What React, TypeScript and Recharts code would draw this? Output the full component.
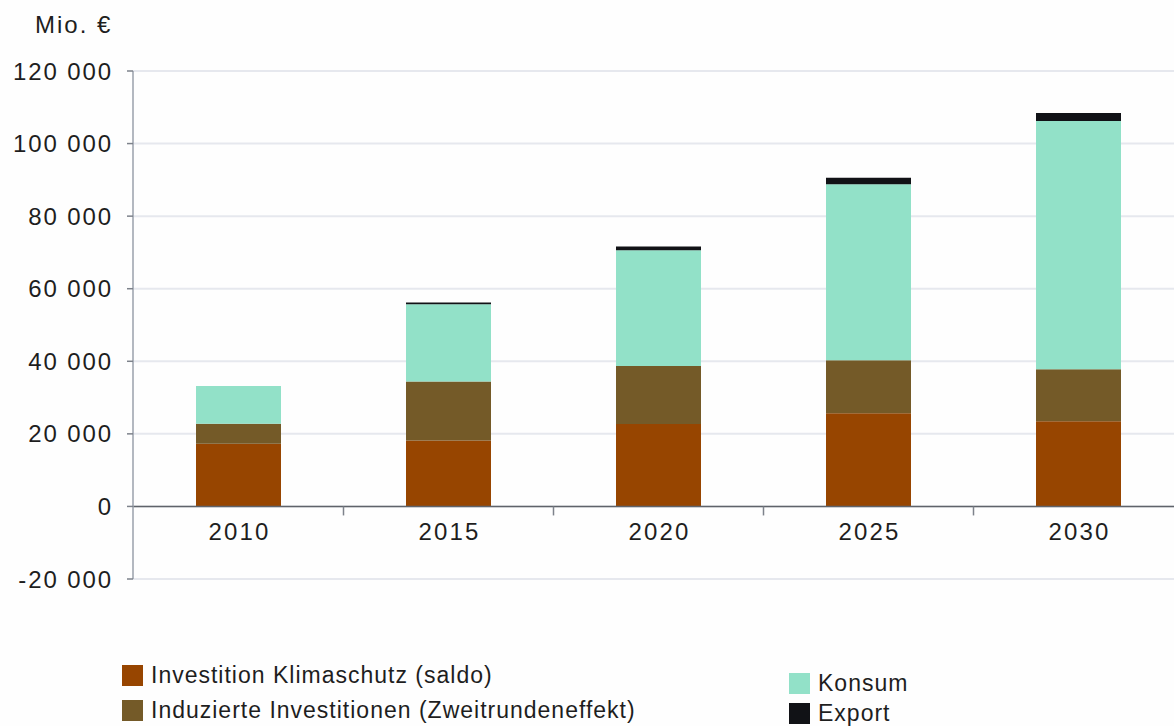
import {
  Bar,
  BarChart,
  CartesianGrid,
  LabelList,
  ReferenceLine,
  XAxis,
  YAxis,
} from "recharts";

const years = ["2010", "2015", "2020", "2025", "2030"];
const klimaschutz = [17300, 18200, 22700, 25700, 23500];
const induziert = [5500, 16200, 16000, 14600, 14300];
const konsum = [10400, 21300, 31900, 48500, 68400];
const exportVals = [0, 500, 1000, 1800, 2200];
const yTicks = [-20000, 0, 20000, 40000, 60000, 80000, 100000, 120000];

const colors = {
  klima: "#974500",
  induziert: "#745a28",
  konsum: "#92e1c8",
  export: "#111216",
};

const font = "'Liberation Sans', Arial, Helvetica, sans-serif";

const rows = years.map((year, i) => ({
  year,
  klima: klimaschutz[i],
  induziert: induziert[i],
  konsum: konsum[i],
  export: exportVals[i],
}));

const fmt = (v: number) => {
  const s = Math.abs(v).toString().replace(/\B(?=(\d{3})+(?!\d))/g, " ");
  return v < 0 ? "-" + s : s;
};

const BAND = 210;

function YearLabel(props: any) {
  const { x, y, width, height, value } = props;
  if (x == null || y == null) return null;
  const cx = Number(x) + Number(width) / 2;
  const zeroY = Number(y) + Number(height);
  return (
    <g>
      <line
        x1={cx + BAND / 2}
        x2={cx + BAND / 2}
        y1={zeroY}
        y2={zeroY + 9}
        stroke="#7d828b"
        strokeWidth={1.5}
      />
      <text
        x={cx + 1}
        y={zeroY + 34}
        textAnchor="middle"
        fill="#1e1e1e"
        fontSize={24}
        fontFamily={font}
        letterSpacing={2.2}
      >
        {value}
      </text>
    </g>
  );
}

function LegendItem(props: { color: string; label: string; left: number; top: number }) {
  return (
    <div
      style={{
        position: "absolute",
        left: props.left,
        top: props.top,
        display: "flex",
        alignItems: "center",
        fontFamily: font,
        fontSize: 23,
        lineHeight: "26px",
        color: "#1e1e1e",
        whiteSpace: "nowrap",
        letterSpacing: 1,
      }}
    >
      <span
        style={{
          display: "inline-block",
          width: 21,
          height: 21,
          background: props.color,
          marginRight: 8,
        }}
      />
      {props.label}
    </div>
  );
}

export default function App() {
  return (
    <div
      style={{
        position: "fixed",
        left: 0,
        top: 0,
        width: 1174,
        height: 726,
        overflow: "hidden",
        background: "#fefefe",
      }}
    >
      <div
        style={{
          position: "absolute",
          left: 35,
          top: 11,
          fontFamily: font,
          fontSize: 24,
          color: "#1e1e1e",
          letterSpacing: 2,
        }}
      >
        Mio. €
      </div>
      <BarChart
        width={1190}
        height={726}
        data={rows}
        margin={{ top: 71, right: 7, bottom: 147, left: 0 }}
        barSize={85}
      >
        <CartesianGrid vertical={false} stroke="#e6e8ee" strokeWidth={2} />
        <XAxis dataKey="year" hide />
        <YAxis
          type="number"
          domain={[-20000, 120000]}
          ticks={yTicks}
          width={133}
          interval={0}
          tickFormatter={fmt}
          axisLine={{ stroke: "#9aa0ab", strokeWidth: 1.5 }}
          tickLine={{ stroke: "#7d828b", strokeWidth: 1.5 }}
          tickSize={6}
          tickMargin={14}
          tick={{
            fill: "#1e1e1e",
            fontSize: 24,
            fontFamily: font,
            letterSpacing: 1.9,
          }}
        />
        <Bar dataKey="klima" stackId="a" fill={colors.klima} isAnimationActive={false}>
          <LabelList dataKey="year" content={<YearLabel />} />
        </Bar>
        <Bar dataKey="induziert" stackId="a" fill={colors.induziert} isAnimationActive={false} />
        <Bar dataKey="konsum" stackId="a" fill={colors.konsum} isAnimationActive={false} />
        <Bar dataKey="export" stackId="a" fill={colors.export} isAnimationActive={false} />
        <ReferenceLine y={0} stroke="#5f636a" strokeWidth={1.5} />
      </BarChart>
      <LegendItem color={colors.klima} label="Investition Klimaschutz (saldo)" left={122} top={662} />
      <LegendItem
        color={colors.induziert}
        label="Induzierte Investitionen (Zweitrundeneffekt)"
        left={122}
        top={697}
      />
      <LegendItem color={colors.konsum} label="Konsum" left={789} top={670} />
      <LegendItem color={colors.export} label="Export" left={789} top={700} />
    </div>
  );
}
